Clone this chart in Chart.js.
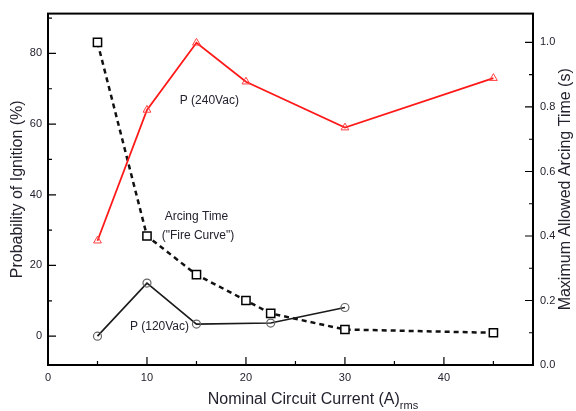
<!DOCTYPE html>
<html>
<head>
<meta charset="utf-8">
<script src="https://cdn.jsdelivr.net/npm/chart.js@4.4.1/dist/chart.umd.min.js"></script>
<style>
  html, body { margin: 0; padding: 0; background: #fff; }
</style>
</head>
<body>
<canvas id="myChart" width="576" height="411"></canvas>
<script>
// data
const p240Current = [5, 10, 15, 20, 30, 45];
const p240 = [27, 64, 83, 72, 59, 73];

const p120Current = [5, 10, 15, 22.5, 30];
const p120 = [0, 15, 3.4, 3.7, 8.1];

const arcCurrent = [5, 10, 15, 20, 22.5, 30, 45];
const arcTime = [1.0, 0.4, 0.28, 0.2, 0.16, 0.11, 0.1];

// tick labels
const xTicks = [0, 10, 20, 30, 40];
const xMinor = [5, 15, 25, 35, 45];
const leftTicks = [0, 20, 40, 60, 80];
const leftMinor = [10, 30, 50, 70, 90];
const rightTicks = [0, 0.2, 0.4, 0.6, 0.8, 1.0];
const rightMinor = [0.1, 0.3, 0.5, 0.7, 0.9];

const FONT = 'Liberation Sans, Arial, sans-serif';
const TXT = '#23232f';

const pts = (xs, ys) => xs.map((x, i) => ({ x: x, y: ys[i] }));

// frame, inward ticks, in-plot labels, right title and the x title with subscript
const decorations = {
  id: 'decorations',
  afterDraw(chart) {
    const ctx = chart.ctx;
    const a = chart.chartArea;
    const sx = chart.scales.x, sl = chart.scales.y, sr = chart.scales.y2;
    ctx.save();
    ctx.strokeStyle = '#000';
    ctx.lineWidth = 2;
    ctx.strokeRect(a.left, a.top, a.right - a.left, a.bottom - a.top);

    ctx.lineWidth = 1.2;
    ctx.beginPath();
    xTicks.forEach(v => { const p = sx.getPixelForValue(v); ctx.moveTo(p, a.bottom); ctx.lineTo(p, a.bottom - 8); });
    xMinor.forEach(v => { const p = sx.getPixelForValue(v); ctx.moveTo(p, a.bottom); ctx.lineTo(p, a.bottom - 4); });
    leftTicks.forEach(v => { const p = sl.getPixelForValue(v); ctx.moveTo(a.left, p); ctx.lineTo(a.left + 8, p); });
    leftMinor.forEach(v => { const p = sl.getPixelForValue(v); ctx.moveTo(a.left, p); ctx.lineTo(a.left + 4, p); });
    rightTicks.forEach(v => { const p = sr.getPixelForValue(v); ctx.moveTo(a.right, p); ctx.lineTo(a.right - 8, p); });
    rightMinor.forEach(v => { const p = sr.getPixelForValue(v); ctx.moveTo(a.right, p); ctx.lineTo(a.right - 4, p); });
    ctx.stroke();

    // labels inside the plot, placed in data units
    ctx.fillStyle = TXT;
    ctx.font = '12px ' + FONT;
    ctx.textAlign = 'center';
    ctx.textBaseline = 'middle';
    ctx.fillText('P (240Vac)', sx.getPixelForValue(16.3), sl.getPixelForValue(66.5));
    ctx.fillText('Arcing Time', sx.getPixelForValue(15.0), sl.getPixelForValue(33.8));
    ctx.fillText('("Fire Curve")', sx.getPixelForValue(15.15), sl.getPixelForValue(28.5));
    ctx.fillText('P (120Vac)', sx.getPixelForValue(11.26), sl.getPixelForValue(2.8));

    // right axis title, reading bottom to top like the left one
    ctx.save();
    ctx.translate(566, (a.top + a.bottom) / 2);
    ctx.rotate(-Math.PI / 2);
    ctx.font = '16px ' + FONT;
    ctx.fillText('Maximum Allowed Arcing Time (s)', 0, 0);
    ctx.restore();

    // x axis title with "rms" subscript
    const main = 'Nominal Circuit Current (A)';
    ctx.font = '16px ' + FONT;
    const w1 = ctx.measureText(main).width;
    ctx.font = '11px ' + FONT;
    const w2 = ctx.measureText('rms').width;
    const x0 = 313 - (w1 + w2) / 2;
    ctx.textAlign = 'left';
    ctx.textBaseline = 'alphabetic';
    ctx.font = '16px ' + FONT;
    ctx.fillText(main, x0, 404);
    ctx.font = '11px ' + FONT;
    ctx.fillText('rms', x0 + w1, 409);
    ctx.restore();
  }
};

const chart = new Chart(
  document.getElementById('myChart'),
  {
    type: 'line',
    data: {
      datasets: [
        {
          label: 'P (240Vac)',
          data: pts(p240Current, p240),
          yAxisID: 'y',
          borderColor: '#ff1a1a',
          borderWidth: 1.8,
          pointStyle: 'triangle',
          pointRadius: 4.5,
          pointBorderWidth: 1,
          pointBorderColor: '#ff4040',
          pointBackgroundColor: 'rgba(255,255,255,0)',
          tension: 0
        },
        {
          label: 'P (120Vac)',
          data: pts(p120Current, p120),
          yAxisID: 'y',
          borderColor: '#1a1a1a',
          borderWidth: 1.6,
          pointStyle: 'circle',
          pointRadius: 4,
          pointBorderWidth: 1.2,
          pointBorderColor: '#666',
          pointBackgroundColor: 'rgba(255,255,255,0)',
          tension: 0
        },
        {
          label: 'Arcing Time',
          data: pts(arcCurrent, arcTime),
          yAxisID: 'y2',
          borderColor: '#111',
          borderWidth: 2.5,
          borderDash: [5, 4],
          pointStyle: 'rect',
          pointRadius: 5.8,
          pointBorderWidth: 1.5,
          pointBorderColor: '#000',
          pointBackgroundColor: '#fff',
          tension: 0
        }
      ]
    },
    options: {
      responsive: false,
      animation: false,
      layout: { padding: { top: 12 } },
      plugins: {
        legend: { display: false },
        tooltip: { enabled: false }
      },
      scales: {
        x: {
          type: 'linear',
          min: 0,
          max: 49,
          afterBuildTicks: s => { s.ticks = xTicks.map(v => ({ value: v })); },
          afterFit: s => { s.height = 46; },
          grid: { display: false, drawTicks: false },
          border: { display: false },
          ticks: { padding: 6, color: TXT, font: { family: FONT, size: 11 } }
        },
        y: {
          position: 'left',
          min: -8.17,
          max: 91.27,
          afterBuildTicks: s => { s.ticks = leftTicks.map(v => ({ value: v })); },
          afterFit: s => { s.width = 48; },
          grid: { display: false, drawTicks: false },
          border: { display: false },
          ticks: { padding: 6, color: TXT, font: { family: FONT, size: 11 } },
          title: {
            display: true,
            text: 'Probability of Ignition (%)',
            color: TXT,
            font: { family: FONT, size: 16 },
            padding: { top: 8 }
          }
        },
        y2: {
          position: 'right',
          min: 0,
          max: 1.0895,
          afterBuildTicks: s => { s.ticks = rightTicks.map(v => ({ value: v })); },
          afterFit: s => { s.width = 43; },
          grid: { display: false, drawTicks: false },
          border: { display: false },
          ticks: {
            padding: 7,
            color: TXT,
            font: { family: FONT, size: 11 },
            callback: v => v.toFixed(1)
          }
        }
      }
    },
    plugins: [decorations]
  }
);
</script>
</body>
</html>
